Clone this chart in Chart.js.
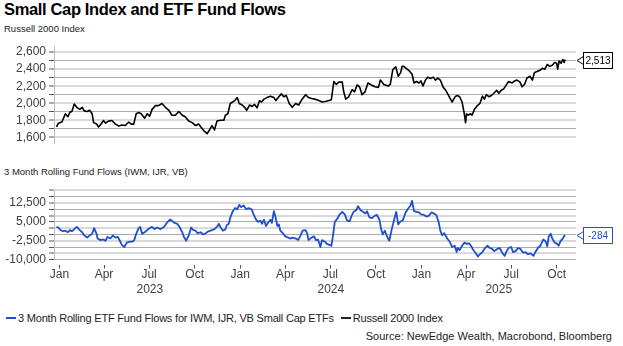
<!DOCTYPE html>
<html>
<head>
<meta charset="utf-8">
<script src="https://cdn.jsdelivr.net/npm/chart.js@4.4.1/dist/chart.umd.min.js"></script>
<style>
  html, body { margin: 0; padding: 0; background: #fff; }
  body { width: 623px; height: 346px; position: relative; overflow: hidden; font-family: "Liberation Sans", Arial, sans-serif; color: #000; }
  #title { position: absolute; left: 4px; top: 0px; font-size: 16.5px; font-weight: bold; letter-spacing: -0.35px; white-space: nowrap; }
  .sub { position: absolute; left: 4px; font-size: 9.5px; color: #222; white-space: nowrap; }
  #sub1 { top: 23px; }
  #sub2 { top: 166px; }
  canvas { position: absolute; left: 0; }
  #topChart { top: 36px; }
  #bottomChart { top: 180px; }
  #legend { position: absolute; left: 6px; top: 312px; font-size: 11px; color: #222; white-space: nowrap; letter-spacing: -0.2px; }
  .item { display: inline-block; margin-right: 4px; }
  .swatch { display: inline-block; width: 10px; height: 2px; vertical-align: middle; margin-right: 2px; position: relative; top: -1px; }
  #source { position: absolute; right: 11px; top: 330px; font-size: 11px; color: #222; white-space: nowrap; }
</style>
</head>
<body>
<div id="title">Small Cap Index and ETF Fund Flows</div>
<div class="sub" id="sub1">Russell 2000 Index</div>
<div class="sub" id="sub2">3 Month Rolling Fund Flows (IWM, IJR, VB)</div>
<canvas id="topChart" width="623" height="117"></canvas>
<canvas id="bottomChart" width="623" height="125"></canvas>
<div id="legend">
  <span class="item"><span class="swatch" style="background:#1f4fcc"></span>3 Month Rolling ETF Fund Flows for IWM, IJR, VB Small Cap ETFs</span>
  <span class="item"><span class="swatch" style="background:#222"></span>Russell 2000 Index</span>
</div>
<div id="source">Source: NewEdge Wealth, Macrobond, Bloomberg</div>

<script>
const russellDates = [
  '2022-12-26','2022-12-30','2023-01-06','2023-01-13','2023-01-18','2023-01-22','2023-01-26','2023-01-31','2023-02-05','2023-02-11',
  '2023-02-16','2023-02-20','2023-02-26','2023-03-03','2023-03-08','2023-03-11','2023-03-17','2023-03-21','2023-03-26','2023-03-31',
  '2023-04-04','2023-04-10','2023-04-17','2023-04-24','2023-05-01','2023-05-07','2023-05-14','2023-05-21','2023-05-26','2023-05-31',
  '2023-06-05','2023-06-10','2023-06-15','2023-06-22','2023-06-27','2023-07-02','2023-07-07','2023-07-14','2023-07-20','2023-07-27',
  '2023-08-03','2023-08-10','2023-08-16','2023-08-23','2023-08-30','2023-09-06','2023-09-12','2023-09-19','2023-09-26','2023-10-03',
  '2023-10-09','2023-10-16','2023-10-21','2023-10-26','2023-10-31','2023-11-05','2023-11-10','2023-11-15','2023-11-22','2023-11-29',
  '2023-12-02','2023-12-07','2023-12-12','2023-12-21','2023-12-26','2023-12-30','2024-01-05','2024-01-10','2024-01-14','2024-01-20',
  '2024-01-25','2024-01-30','2024-02-04','2024-02-09','2024-02-13','2024-02-18','2024-02-24','2024-03-02','2024-03-09','2024-03-13',
  '2024-03-19','2024-03-24','2024-03-29','2024-04-03','2024-04-09','2024-04-15','2024-04-22','2024-04-28','2024-05-05','2024-05-12',
  '2024-05-18','2024-05-24','2024-05-31','2024-06-08','2024-06-14','2024-06-21','2024-06-28','2024-07-03','2024-07-08','2024-07-13',
  '2024-07-18','2024-07-25','2024-07-28','2024-08-01','2024-08-07','2024-08-14','2024-08-19','2024-08-24','2024-08-29','2024-09-03',
  '2024-09-09','2024-09-15','2024-09-22','2024-09-29','2024-10-06','2024-10-10','2024-10-17','2024-10-26','2024-10-30','2024-11-04',
  '2024-11-10','2024-11-15','2024-11-20','2024-11-23','2024-11-26','2024-12-03','2024-12-08','2024-12-13','2024-12-17','2024-12-22',
  '2024-12-27','2024-12-31','2025-01-04','2025-01-09','2025-01-14','2025-01-19','2025-01-25','2025-01-29','2025-02-03','2025-02-08',
  '2025-02-14','2025-02-19','2025-02-23','2025-02-27','2025-03-04','2025-03-07','2025-03-11','2025-03-15','2025-03-19','2025-03-24',
  '2025-03-28','2025-03-31','2025-04-02','2025-04-05','2025-04-10','2025-04-13','2025-04-18','2025-04-24','2025-04-29','2025-05-04',
  '2025-05-08','2025-05-12','2025-05-17','2025-05-22','2025-05-27','2025-06-02','2025-06-06','2025-06-11','2025-06-16','2025-06-22',
  '2025-06-26','2025-07-03','2025-07-08','2025-07-13','2025-07-19','2025-07-23','2025-07-28','2025-08-02','2025-08-08','2025-08-13',
  '2025-08-17','2025-08-23','2025-08-28','2025-09-02','2025-09-07','2025-09-12','2025-09-17','2025-09-22','2025-09-27','2025-10-01',
  '2025-10-03','2025-10-06','2025-10-10','2025-10-13','2025-10-16','2025-10-18'
];
const russellValues = [
  1721,1766,1779,1876,1841,1893,1903,1990,1952,1928,
  1952,1910,1903,1917,1876,1772,1755,1721,1755,1797,
  1766,1790,1797,1755,1731,1745,1738,1779,1755,1755,
  1876,1890,1876,1824,1876,1848,1928,1972,1972,1997,
  1952,1917,1859,1859,1903,1859,1841,1790,1772,1738,
  1755,1703,1669,1641,1686,1738,1686,1790,1800,1800,
  1859,1876,1997,2031,2066,1997,1979,1952,1917,1979,
  1962,1986,1945,2031,2014,2048,2066,2083,2066,2031,
  2076,2110,2076,2090,1997,1952,1997,1979,2048,2100,
  2066,2055,2048,2031,2014,2021,2031,2041,2255,2221,
  2248,2248,2134,2048,2076,2159,2134,2214,2193,2100,
  2134,2238,2214,2193,2186,2272,2221,2203,2221,2393,
  2428,2317,2359,2434,2434,2400,2376,2341,2238,2255,
  2238,2262,2203,2272,2307,2290,2307,2272,2296,2272,
  2186,2152,2110,2066,2014,2048,2083,2090,2076,2014,
  1893,1772,1876,1859,1876,1859,1928,1972,1997,2083,
  2048,2100,2076,2090,2117,2152,2117,2152,2169,2221,
  2255,2238,2262,2272,2248,2193,2221,2296,2317,2272,
  2359,2376,2386,2410,2400,2455,2434,2445,2479,2469,
  2400,2497,2469,2514,2479,2513
];

const flowDates = [
  '2022-12-26','2022-12-30','2023-01-03','2023-01-08','2023-01-13','2023-01-18','2023-01-22','2023-01-26','2023-01-31','2023-02-05',
  '2023-02-11','2023-02-16','2023-02-20','2023-02-26','2023-03-03','2023-03-08','2023-03-12','2023-03-17','2023-03-19','2023-03-25',
  '2023-03-30','2023-04-04','2023-04-08','2023-04-14','2023-04-19','2023-04-24','2023-04-29','2023-05-03','2023-05-07','2023-05-12',
  '2023-05-17','2023-05-23','2023-05-28','2023-06-01','2023-06-05','2023-06-10','2023-06-13','2023-06-17','2023-06-22','2023-06-27',
  '2023-07-02','2023-07-07','2023-07-12','2023-07-17','2023-07-24','2023-07-31','2023-08-06','2023-08-12','2023-08-16','2023-08-21',
  '2023-08-27','2023-09-01','2023-09-06','2023-09-10','2023-09-14','2023-09-19','2023-09-24','2023-09-28','2023-10-03','2023-10-07',
  '2023-10-13','2023-10-18','2023-10-23','2023-10-29','2023-11-05','2023-11-10','2023-11-15','2023-11-19','2023-11-22','2023-11-27',
  '2023-12-02','2023-12-05','2023-12-09','2023-12-12','2023-12-17','2023-12-22','2023-12-26','2023-12-30','2024-01-03','2024-01-08',
  '2024-01-13','2024-01-18','2024-01-24','2024-01-28','2024-02-02','2024-02-06','2024-02-11','2024-02-14','2024-02-18','2024-02-22',
  '2024-02-26','2024-03-02','2024-03-05','2024-03-09','2024-03-12','2024-03-16','2024-03-19','2024-03-22','2024-03-27','2024-04-01',
  '2024-04-07','2024-04-11','2024-04-16','2024-04-22','2024-04-27','2024-05-02','2024-05-06','2024-05-12','2024-05-15','2024-05-18',
  '2024-05-24','2024-05-29','2024-06-02','2024-06-06','2024-06-11','2024-06-14','2024-06-20','2024-06-24','2024-06-29','2024-07-03',
  '2024-07-06','2024-07-10','2024-07-15','2024-07-19','2024-07-25','2024-07-30','2024-08-04','2024-08-09','2024-08-13','2024-08-17',
  '2024-08-22','2024-08-26','2024-08-31','2024-09-05','2024-09-10','2024-09-13','2024-09-18','2024-09-23','2024-09-29','2024-10-03',
  '2024-10-08','2024-10-12','2024-10-15','2024-10-19','2024-10-24','2024-10-28','2024-11-02','2024-11-06','2024-11-11','2024-11-15',
  '2024-11-20','2024-11-24','2024-11-30','2024-12-04','2024-12-10','2024-12-13','2024-12-17','2024-12-22','2024-12-27','2024-12-31',
  '2025-01-06','2025-01-11','2025-01-16','2025-01-21','2025-01-26','2025-01-31','2025-02-05','2025-02-08','2025-02-12','2025-02-16',
  '2025-02-22','2025-02-27','2025-03-04','2025-03-09','2025-03-13','2025-03-15','2025-03-19','2025-03-24','2025-03-29','2025-04-02',
  '2025-04-07','2025-04-11','2025-04-15','2025-04-20','2025-04-25','2025-04-29','2025-05-04','2025-05-08','2025-05-14','2025-05-19',
  '2025-05-24','2025-05-28','2025-06-03','2025-06-08','2025-06-13','2025-06-18','2025-06-22','2025-06-26','2025-07-01','2025-07-05',
  '2025-07-10','2025-07-15','2025-07-20','2025-07-25','2025-07-30','2025-08-04','2025-08-09','2025-08-15','2025-08-19','2025-08-24',
  '2025-08-29','2025-09-04','2025-09-09','2025-09-12','2025-09-15','2025-09-19','2025-09-22','2025-09-27','2025-10-02','2025-10-05',
  '2025-10-09','2025-10-12','2025-10-16','2025-10-18'
];
const flowValues = [
  3000,2750,1750,1250,1500,875,1750,1250,2125,3000,
  1750,875,-375,-1250,-375,250,2500,250,-1625,-2250,
  -2000,-2500,-1000,-1625,-375,-1250,-1000,-2500,-4125,-5000,
  -3250,-2875,-2875,-2250,250,2500,3000,250,875,1750,
  2500,3000,2125,2750,2125,3000,4625,5875,5500,4625,
  4250,2750,875,-1250,-2500,-375,2750,1750,1500,500,
  875,0,500,1250,1750,2125,3000,4250,3000,1500,
  2000,3750,4250,6750,9250,10500,10000,11750,10875,11500,
  10000,10500,10000,8000,5875,5000,5500,4250,5875,3375,
  4625,5875,4625,9250,7125,3375,4000,1500,500,-750,
  -1250,-1625,-1250,-1625,-2250,-375,1500,1750,500,-2250,
  -1250,-750,-2250,-2000,-5000,-2250,-2875,-3750,-4125,-4500,
  -1000,5000,6250,7750,9000,8000,5500,5250,7500,9000,
  9625,11250,9625,9000,8375,9250,6750,6500,7500,7750,
  5875,1750,0,1500,-1000,-2500,2125,5250,9000,4000,
  5250,5500,8750,10000,11500,13375,9250,9000,8750,8000,
  7750,7125,7500,8750,8375,7750,4625,1500,-375,500,
  -1625,-2875,-5000,-4500,-7000,-5375,-6250,-4500,-3250,-3750,
  -3500,-4500,-6000,-7250,-8750,-7875,-7000,-5750,-4500,-5375,
  -5750,-6625,-5750,-5375,-7250,-8500,-6625,-5375,-5000,-7000,
  -6625,-5375,-5750,-7250,-7000,-7875,-7500,-8500,-7000,-5375,
  -4500,-2000,-2875,-4750,-750,250,-1625,-3250,-3750,-4500,
  -2500,-2000,-750,-284
];

const xTickDates = [
  '2023-01-01','2023-04-01','2023-07-01','2023-10-01',
  '2024-01-01','2024-04-01','2024-07-01','2024-10-01',
  '2025-01-01','2025-04-01','2025-07-01','2025-10-01'
];
const xTickLabels = ['Jan','Apr','Jul','Oct','Jan','Apr','Jul','Oct','Jan','Apr','Jul','Oct'];
const years = [2023, 2024, 2025];

const russellTicks = [1600,1700,1800,1900,2000,2100,2200,2300,2400,2500,2600];
const russellTickLabels = ['1,600','','1,800','','2,000','','2,200','','2,400','','2,600'];
const flowTicks = [-10000,-7500,-5000,-2500,0,2500,5000,7500,10000,12500,15000,17500];
const flowTickLabels = ['-10,000','','','-2,500','','','5,000','','','12,500','',''];

const BASE = Date.UTC(2023, 0, 1);
function dayNum(s) {
  const p = s.split('-').map(Number);
  return (Date.UTC(p[0], p[1] - 1, p[2]) - BASE) / 86400000;
}
const X_MIN = dayNum('2022-12-21');
const X_MAX = dayNum('2025-11-09');

const tickFont = { family: '"Liberation Sans", Arial, sans-serif', size: 12 };
const LIGHT = '#d9d9d9';
const DARK = '#ababab';

// callout box with the last value, drawn in the right padding
const endLabel = {
  id: 'endLabel',
  afterDatasetsDraw(chart, args, opts) {
    const ctx = chart.ctx;
    const area = chart.chartArea;
    const pts = chart.data.datasets[0].data;
    const last = pts[pts.length - 1].y;
    const y = Math.round(chart.scales.y.getPixelForValue(last)) + 0.5;
    const tip = area.right + 1;
    const bx = tip + 6.5, bw = 29, bh = 16;
    ctx.save();
    ctx.strokeStyle = opts.color;
    ctx.lineWidth = 1;
    ctx.beginPath();
    ctx.moveTo(bx, y - 4);
    ctx.lineTo(tip, y);
    ctx.lineTo(bx, y + 4);
    ctx.stroke();
    ctx.fillStyle = '#fff';
    ctx.fillRect(bx, y - bh / 2, bw, bh);
    ctx.strokeRect(bx, y - bh / 2, bw, bh);
    ctx.fillStyle = opts.color;
    ctx.font = '10px "Liberation Sans", Arial, sans-serif';
    ctx.textAlign = 'center';
    ctx.textBaseline = 'middle';
    ctx.fillText(last.toLocaleString('en-US'), bx + bw / 2, y + 0.5);
    ctx.restore();
  }
};

// year captions centred under each year's part of the axis
const yearLabels = {
  id: 'yearLabels',
  afterDraw(chart) {
    const x = chart.scales.x;
    const ctx = chart.ctx;
    ctx.save();
    ctx.fillStyle = '#404040';
    ctx.font = '12px "Liberation Sans", Arial, sans-serif';
    ctx.textAlign = 'center';
    ctx.textBaseline = 'middle';
    years.forEach(yr => {
      const a = Math.max(dayNum(yr + '-01-01'), x.min);
      const b = Math.min(dayNum((yr + 1) + '-01-01'), x.max);
      const px = (x.getPixelForValue(a) + x.getPixelForValue(b)) / 2;
      ctx.fillText(String(yr), px, chart.chartArea.bottom + 30);
    });
    ctx.restore();
  }
};

function yAxis(min, max, ticks, labels, width) {
  return {
    min: min,
    max: max,
    afterBuildTicks: s => { s.ticks = ticks.filter(v => v >= min && v <= max).map(v => ({ value: v })); },
    afterFit: s => { s.width = width; },
    ticks: {
      autoSkip: false,
      font: tickFont,
      color: '#404040',
      padding: 3,
      callback: v => labels[ticks.indexOf(v)]
    },
    grid: {
      color: c => (ticks.length - 1 - ticks.indexOf(c.tick.value)) % 2 === 0 ? LIGHT : DARK,
      lineWidth: c => (ticks.length - 1 - ticks.indexOf(c.tick.value)) % 2 === 0 ? 2 : 1,
      tickLength: 5,
      tickColor: '#555',
      tickWidth: 1
    },
    border: { display: true, color: '#bfbfbf', width: 1 }
  };
}

new Chart(document.getElementById('topChart'), {
  type: 'line',
  data: {
    datasets: [{
      label: 'Russell 2000 Index',
      data: russellDates.map((d, i) => ({ x: dayNum(d), y: russellValues[i] })),
      borderColor: '#000',
      borderWidth: 1.6,
      borderJoinStyle: 'round',
      pointRadius: 0,
      tension: 0
    }]
  },
  options: {
    responsive: false,
    animation: false,
    layout: { padding: { top: 7, right: 47, bottom: 0, left: 0 } },
    plugins: { legend: { display: false }, tooltip: { enabled: false }, endLabel: { color: '#000' } },
    scales: {
      x: { type: 'linear', min: X_MIN, max: X_MAX, display: false },
      y: yAxis(1535, 2670, russellTicks, russellTickLabels, 54)
    }
  },
  plugins: [endLabel]
});

const flowY = yAxis(-10000, 17600, flowTicks, flowTickLabels, 54);
flowY.grid.color = c => (flowTicks.indexOf(c.tick.value) % 2 === 1) ? LIGHT : DARK;
flowY.grid.lineWidth = c => (flowTicks.indexOf(c.tick.value) % 2 === 1) ? 2 : 1;

new Chart(document.getElementById('bottomChart'), {
  type: 'line',
  data: {
    datasets: [{
      label: '3 Month Rolling ETF Fund Flows for IWM, IJR, VB Small Cap ETFs',
      data: flowDates.map((d, i) => ({ x: dayNum(d), y: flowValues[i] })),
      borderColor: '#1f4fcc',
      borderWidth: 1.8,
      borderJoinStyle: 'round',
      pointRadius: 0,
      tension: 0
    }]
  },
  options: {
    responsive: false,
    animation: false,
    layout: { padding: { top: 6, right: 47, bottom: 0, left: 0 } },
    plugins: { legend: { display: false }, tooltip: { enabled: false }, endLabel: { color: '#1f4fcc' } },
    scales: {
      x: {
        type: 'linear',
        min: X_MIN,
        max: X_MAX,
        afterBuildTicks: s => { s.ticks = xTickDates.map(d => ({ value: dayNum(d) })); },
        afterFit: s => { s.height = 45.4; },
        ticks: {
          autoSkip: false,
          maxRotation: 0,
          font: tickFont,
          color: '#404040',
          padding: -1,
          callback: (v, i) => xTickLabels[i]
        },
        grid: {
          drawOnChartArea: false,
          tickLength: 9,
          tickColor: '#555',
          tickBorderDash: [0, 5, 4, 100]
        },
        border: { display: false }
      },
      y: flowY
    }
  },
  plugins: [endLabel, yearLabels]
});
</script>
</body>
</html>
